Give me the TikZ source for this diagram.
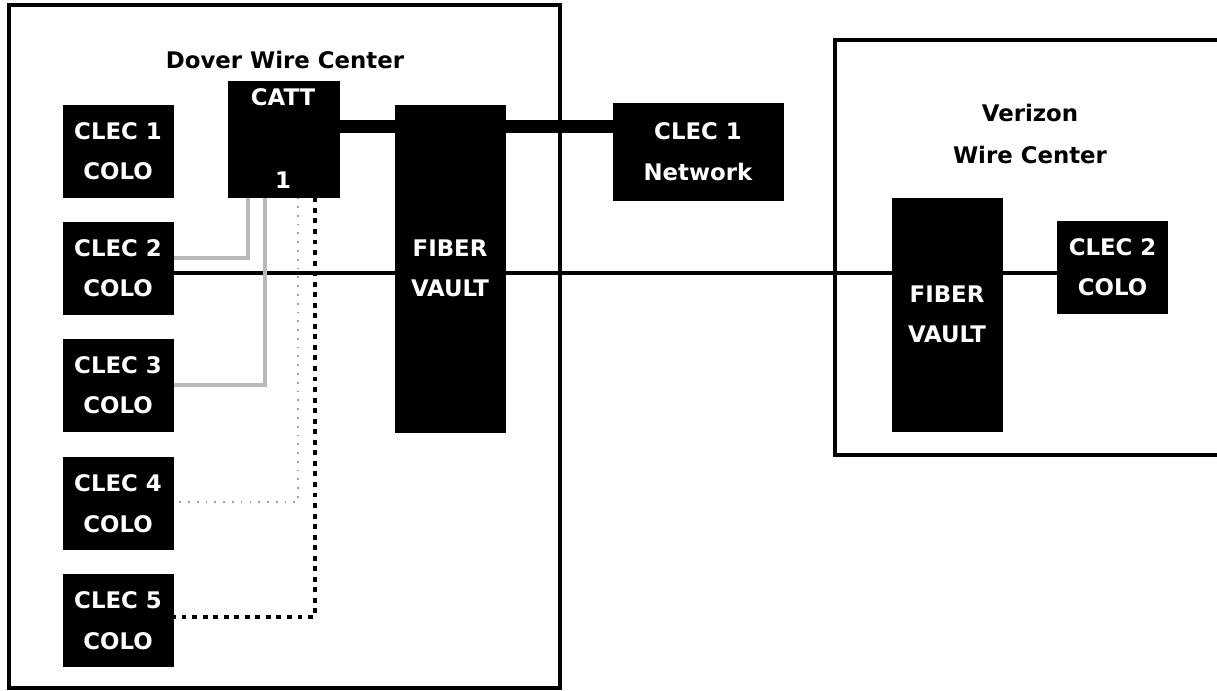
\documentclass[tikz,border=0pt]{standalone}
\usepackage{fontspec}
\setmainfont{DejaVu Sans}
\usetikzlibrary{positioning,backgrounds}
\tikzset{
 wc frame/.style={line width=2pt},
 wc block/.style={rectangle,fill=black,draw=black,text=white,align=center,
                  inner sep=0pt,font=\bfseries\fontsize{13}{23}\selectfont},
 wc colo/.style={wc block,minimum width=2.2cm,minimum height=1.84cm},
 wc vault/.style={wc block,minimum width=2.2cm},
 wc title/.style={align=center,font=\bfseries\fontsize{13}{24}\selectfont},
 wc tag/.style={text=white,inner sep=0pt,font=\bfseries\fontsize{13}{16}\selectfont},
 wc trunk/.style={line width=7.4pt},
 wc fiber/.style={line width=2.3pt},
 wc patch/.style={line width=1.8pt,gray!55},
 wc fine dots/.style={line width=1pt,gray!75,dash pattern=on 1pt off 4pt},
 wc heavy dots/.style={line width=2.8pt,dash pattern=on 2.8pt off 3.2pt}
}

\begin{document}
\begin{tikzpicture}[x=0.02cm,y=-0.02cm]
 \useasboundingbox (0,0) rectangle (1217,690);

 % Dover side
 \node[wc title] (dtitle) at (285,60) {Dover Wire Center};
 \node[wc block,minimum width=2.22cm,minimum height=2.32cm] (catt) at (283.5,139) {};
 \node[wc tag] (cattlbl) at (283,97) {CATT};
 \node[wc tag] (port) at (283,180) {1};
 \node[wc colo] (d1) at (118,151) {CLEC 1\\COLO};
 \node[wc colo] (d2) at (118,268) {CLEC 2\\COLO};
 \node[wc colo] (d3) at (118,385) {CLEC 3\\COLO};
 \node[wc colo] (d4) at (118,503.5) {CLEC 4\\COLO};
 \node[wc colo] (d5) at (118,620.5) {CLEC 5\\COLO};
 \node[wc vault,minimum height=6.54cm] (dfv) at (450,268.5) {FIBER\\VAULT};
 \node[wc block,minimum width=3.4cm,minimum height=1.94cm] (net) at (698,151.5) {CLEC 1\\Network};

 % Verizon side
 \node[wc title] (vtitle) at (1030,134) {Verizon\\Wire Center};
 \node[wc vault,minimum height=4.66cm] (vfv) at (947,314.5) {FIBER\\VAULT};
 \node[wc colo] (vc2) at (1112.5,267) {CLEC 2\\COLO};

 \coordinate (trunk) at (450,126);
 \coordinate (x2) at (248,258);
 \coordinate (x3) at (265,385);
 \coordinate (x4) at (298,502);
 \coordinate (x5) at (315,617);

 \begin{pgfonlayer}{background}
  \draw[wc frame] (9,5) rectangle (560,688);
  \draw[wc frame] (1217,40) -- (835,40) -- (835,455) -- (1217,455);
  \draw[wc trunk] (catt.east |- trunk) -- (net.west |- trunk);
  \draw[wc fiber] ([yshift=-2.8pt]d2.east) -- ([yshift=-2.8pt]d2.east -| vc2.west);
  \draw[wc patch] (catt.south -| x2) -- (x2) -- (d2.east |- x2);
  \draw[wc patch] (catt.south -| x3) -- (x3) -- (d3.east |- x3);
  \draw[wc fine dots] (catt.south -| x4) -- (x4) -- (d4.east |- x4);
  \draw[wc heavy dots] (catt.south -| x5) -- (x5) -- (d5.east |- x5);
 \end{pgfonlayer}
\end{tikzpicture}
\end{document}
